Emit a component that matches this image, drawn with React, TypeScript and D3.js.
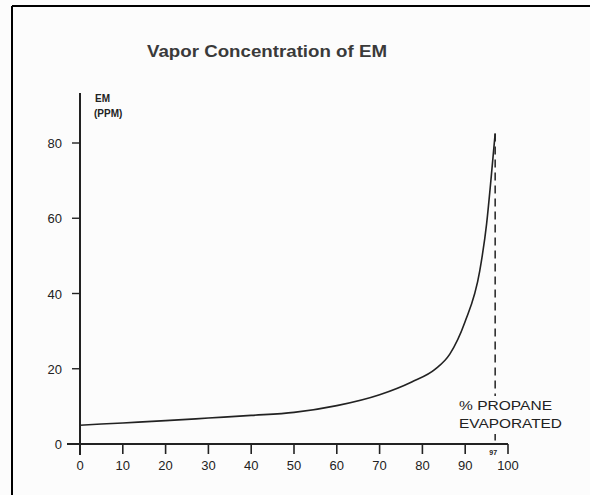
import React from "react";
import * as d3 from "d3";

const percentEvaporated = [0, 10, 20, 30, 40, 50, 60, 70, 77.5, 83, 86.4, 89.9, 93.4, 95, 96, 97];
const emPpm = [5, 5.6, 6.2, 6.9, 7.6, 8.4, 10.2, 13.1, 16.5, 19.9, 23.9, 32.3, 46, 58.5, 70, 82.5];
const xTicks = [0, 10, 20, 30, 40, 50, 60, 70, 80, 90, 100];
const yTicks = [0, 20, 40, 60, 80];
const markerX = 97;

const W = 590;
const H = 495;

export default function App() {
  const x = d3.scaleLinear().domain([0, 100]).range([80, 508]);
  const y = d3.scaleLinear().domain([0, 80]).range([444, 143]);
  const pts: [number, number][] = percentEvaporated.map((v, i) => [v, emPpm[i]]);
  const line = d3
    .line<[number, number]>()
    .x((d) => x(d[0]))
    .y((d) => y(d[1]))
    .curve(d3.curveMonotoneX);
  const font = "'Liberation Sans', Arial, sans-serif";
  const ink = "#222";
  return (
    <svg
      width={W}
      height={H}
      style={{ position: "absolute", left: 0, top: 0, background: "#fcfcfc" }}
      fontFamily={font}
    >
      {/* frame */}
      <line x1={12} y1={6} x2={W} y2={6} stroke="#000" strokeWidth={2} />
      <line x1={12} y1={6} x2={12} y2={H} stroke="#000" strokeWidth={2} />

      <text
        x={267}
        y={57}
        textAnchor="middle"
        fontSize={17}
        fontWeight="bold"
        fill="#3a3a3a"
        textLength={240}
        lengthAdjust="spacingAndGlyphs"
      >
        Vapor Concentration of EM
      </text>

      {/* axes */}
      <line x1={x(0)} y1={93} x2={x(0)} y2={455} stroke={ink} strokeWidth={2} />
      <line x1={67} y1={y(0)} x2={x(100)} y2={y(0)} stroke={ink} strokeWidth={2} />

      {xTicks.map((t) => (
        <g key={"x" + t}>
          <line x1={x(t)} y1={y(0)} x2={x(t)} y2={y(0) + 10} stroke={ink} strokeWidth={1.6} />
          <text x={x(t)} y={470} textAnchor="middle" fontSize={13} fill={ink}>
            {t}
          </text>
        </g>
      ))}
      <text x={x(markerX) - 2} y={455} textAnchor="middle" fontSize={7} fill={ink} fontWeight="bold">
        {markerX}
      </text>

      {yTicks.map((t) => (
        <g key={"y" + t}>
          {t > 0 && (
            <line x1={x(0) - 8} y1={y(t)} x2={x(0)} y2={y(t)} stroke={ink} strokeWidth={1.4} />
          )}
          <text x={62} y={y(t) + 5} textAnchor="end" fontSize={13} fill={ink}>
            {t}
          </text>
        </g>
      ))}

      <text x={95} y={102} fontSize={10} fill={ink} fontWeight="bold">
        EM
      </text>
      <text x={94} y={117} fontSize={10} fill={ink} fontWeight="bold">
        (PPM)
      </text>

      {/* dashed marker */}
      <line
        x1={x(markerX)}
        y1={y(emPpm[emPpm.length - 1])}
        x2={x(markerX)}
        y2={y(0)}
        stroke={ink}
        strokeWidth={1.5}
        strokeDasharray="8,5"
      />

      <path d={line(pts) || ""} fill="none" stroke={ink} strokeWidth={1.6} />

      <rect x={455} y={396} width={112} height={38} fill="#fcfcfc" />
      <text
        x={459}
        y={410}
        fontSize={13}
        fill={ink}
        textLength={93}
        lengthAdjust="spacingAndGlyphs"
      >
        % PROPANE
      </text>
      <text
        x={459}
        y={428}
        fontSize={13}
        fill={ink}
        textLength={103}
        lengthAdjust="spacingAndGlyphs"
      >
        EVAPORATED
      </text>
    </svg>
  );
}
